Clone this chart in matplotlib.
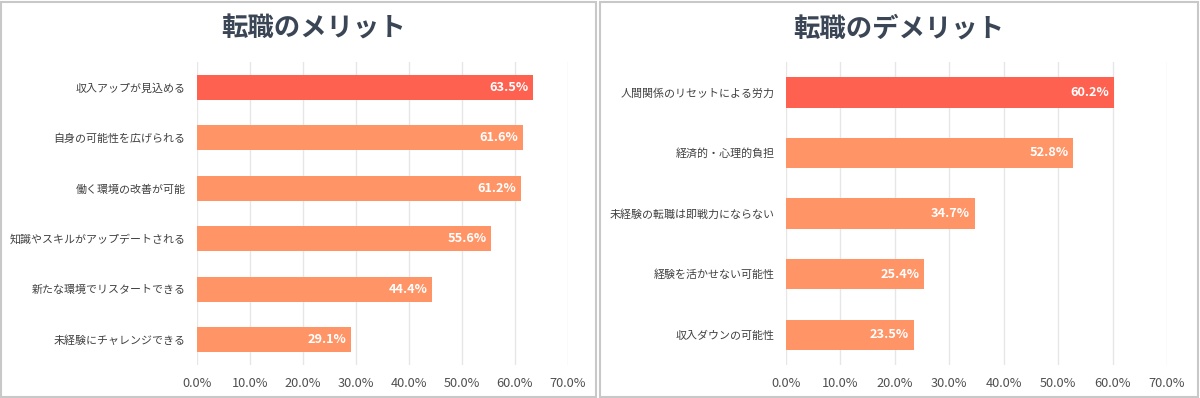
import matplotlib
matplotlib.use("Agg")
import matplotlib.pyplot as plt
from matplotlib.patches import Rectangle
from matplotlib.ticker import FuncFormatter

plt.rcParams['font.family'] = ['Noto Sans CJK JP', 'DejaVu Sans']

merit_labels = ['収入アップが見込める', '自身の可能性を広げられる', '働く環境の改善が可能',
                '知識やスキルがアップデートされる', '新たな環境でリスタートできる', '未経験にチャレンジできる']
merit_values = [63.5, 61.6, 61.2, 55.6, 44.4, 29.1]

demerit_labels = ['人間関係のリセットによる労力', '経済的・心理的負担', '未経験の転職は即戦力にならない',
                  '経験を活かせない可能性', '収入ダウンの可能性']
demerit_values = [60.2, 52.8, 34.7, 25.4, 23.5]

ticks = [0, 10, 20, 30, 40, 50, 60, 70]

top_color = '#FF6150'
bar_color = '#FF9466'
title_color = '#3A4656'
text_color = '#404040'

fig = plt.figure(figsize=(12, 3.98), dpi=100)

# panel frames
fig.patches.append(Rectangle((0.001, 0.002), 0.496, 0.994, transform=fig.transFigure,
                             fill=False, edgecolor='#C8C8C8', linewidth=1.5))
fig.patches.append(Rectangle((0.5, 0.002), 0.498, 0.994, transform=fig.transFigure,
                             fill=False, edgecolor='#C8C8C8', linewidth=1.5))


def draw(ax, labels, values, title, title_x):
    n = len(values)
    colors = [top_color] + [bar_color] * (n - 1)
    ax.barh(range(n), values, height=0.5, color=colors, zorder=3)
    for i, v in enumerate(values):
        ax.text(v - 0.9, i, f'{v:.1f}%', ha='right', va='center', color='white',
                fontsize=9.2, fontweight='bold', zorder=4)
    ax.set_xlim(0, 70)
    ax.set_ylim(n - 0.5, -0.5)
    ax.set_xticks(ticks)
    ax.xaxis.set_major_formatter(FuncFormatter(lambda x, p: f'{x:.1f}%'))
    ax.set_yticks(range(n))
    ax.set_yticklabels(labels)
    ax.tick_params(axis='y', length=0, pad=8, labelsize=7.9, labelcolor=text_color)
    ax.tick_params(axis='x', length=0, pad=9, labelsize=9.2, labelcolor='#505050')
    ax.grid(axis='x', color='#E6E6E6', linewidth=1, zorder=0)
    for s in ax.spines.values():
        s.set_visible(False)
    fig.text(title_x, 0.928, title, ha='center', va='center', fontsize=19,
             fontweight='bold', color=title_color)


ax1 = fig.add_axes([0.164, 0.083, 0.309, 0.761])
draw(ax1, merit_labels, merit_values, '転職のメリット', 0.261)

ax2 = fig.add_axes([0.655, 0.083, 0.3175, 0.761])
draw(ax2, demerit_labels, demerit_values, '転職のデメリット', 0.749)

fig.savefig('out.png', dpi=100)
